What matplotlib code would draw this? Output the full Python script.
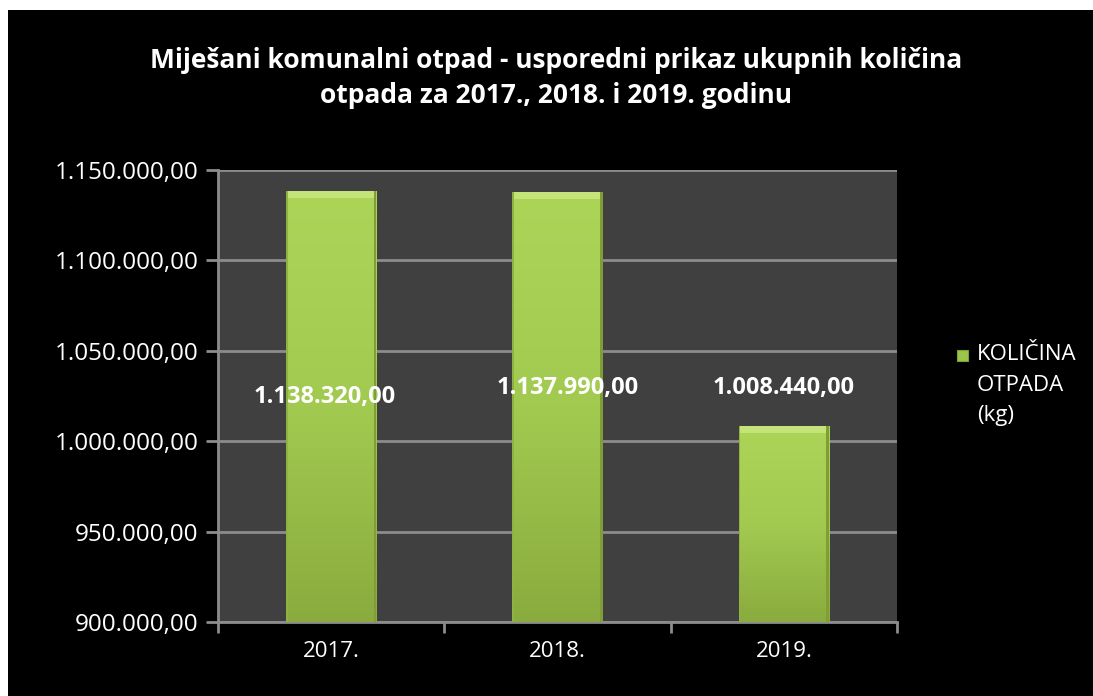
import numpy as np
import matplotlib
matplotlib.use('Agg')
import matplotlib.pyplot as plt
from matplotlib.colors import LinearSegmentedColormap
from matplotlib.patches import Rectangle

# ── Data ────────────────────────────────
years = ['2017.', '2018.', '2019.']
values = [1138320.00, 1137990.00, 1008440.00]
value_labels = ['1.138.320,00', '1.137.990,00', '1.008.440,00']
# label anchor (category offset, y in data units) as placed in the original
label_dx = [-0.03, 0.045, 0.0]
label_y = [1024500, 1029400, 1029400]
yticks = [900000, 950000, 1000000, 1050000, 1100000, 1150000]

title = 'Miješani komunalni otpad - usporedni prikaz ukupnih količina\notpada za 2017., 2018. i 2019. godinu'
legend_label = 'KOLIČINA\nOTPADA\n(kg)'

plt.rcParams['font.family'] = ['Open Sans', 'DejaVu Sans']


def fmt(v):
    s = f'{v:,.2f}'
    return s.replace(',', 'X').replace('.', ',').replace('X', '.')


fig = plt.figure(figsize=(10.93, 6.96), dpi=100, facecolor='white')
# black chart area with small white margin top/left
fig.patches.append(Rectangle((8 / 1093, 0), 1, 686 / 696, transform=fig.transFigure,
                             facecolor='black', edgecolor='none', zorder=-10))

ax = fig.add_axes([218 / 1093, 1 - 622 / 696, (897 - 218) / 1093, (622 - 170) / 696])
ax.set_facecolor('#404040')

x = np.arange(len(years))
width = 0.4
ax.set_xlim(-0.5, len(years) - 0.5)
ax.set_ylim(900000, 1150000)

cmap = LinearSegmentedColormap.from_list('g', ['#8aab3e', '#a2ca50', '#acd558'])
grad = np.linspace(0, 1, 256).reshape(-1, 1)
bars = ax.bar(x, values, width, color='#9cc44a', edgecolor='none', zorder=3)
for b in bars:
    x0, y0, w, h = b.get_x(), 900000, b.get_width(), b.get_height() - 900000
    im = ax.imshow(grad, extent=(x0, x0 + w, y0, y0 + h), origin='lower', cmap=cmap,
                   aspect='auto', zorder=3)
    im.set_clip_path(b)
    # bevel highlight on top, darker rim on sides
    ax.add_patch(Rectangle((x0, y0 + h - 4000), w, 4000, facecolor='#c4e47a',
                           edgecolor='none', zorder=4))
    ax.add_patch(Rectangle((x0 + w - 0.012, y0), 0.012, h, facecolor='#7f9e36',
                           edgecolor='none', zorder=4))
    ax.add_patch(Rectangle((x0, y0), 0.008, h, facecolor='#8fb343',
                           edgecolor='none', zorder=4))

for i in range(len(years)):
    ax.text(x[i] + label_dx[i], label_y[i], value_labels[i], ha='center', va='center',
            color='white', fontsize=17, fontweight='bold', zorder=6)

ax.set_yticks(yticks)
ax.set_yticklabels([fmt(v) for v in yticks])
ax.grid(axis='y', color='#8c8c8c', linewidth=2, zorder=1)
ax.set_axisbelow(True)

ax.set_xticks(x)
ax.set_xticklabels(years)
ax.set_xticks(np.arange(-0.5, len(years)), minor=True)
ax.tick_params(axis='x', which='major', length=0, pad=14, colors='white', labelsize=16)
ax.tick_params(axis='x', which='minor', length=8, width=2, color='#8c8c8c', direction='out')
ax.tick_params(axis='y', length=9, width=2, color='#8c8c8c', colors='white',
               labelsize=17.5, pad=5, direction='out')

for s in ['top', 'right']:
    ax.spines[s].set_visible(False)
for s in ['left', 'bottom']:
    ax.spines[s].set_color('#8c8c8c')
    ax.spines[s].set_linewidth(2)

fig.text(556 / 1093, 1 - 78 / 696, title, ha='center', va='center', color='white',
         fontsize=19, fontweight='bold', linespacing=1.4)

# legend
fig.patches.append(Rectangle((957 / 1093, 1 - 361 / 696), 11 / 1093, 11 / 696,
                             transform=fig.transFigure, facecolor='#9cc44a',
                             edgecolor='#7f9e36', linewidth=0.8))
fig.text(977 / 1093, 1 - 344 / 696, legend_label, ha='left', va='top', color='white',
         fontsize=16, linespacing=1.6)

fig.savefig('out.png', dpi=100, facecolor=fig.get_facecolor())
